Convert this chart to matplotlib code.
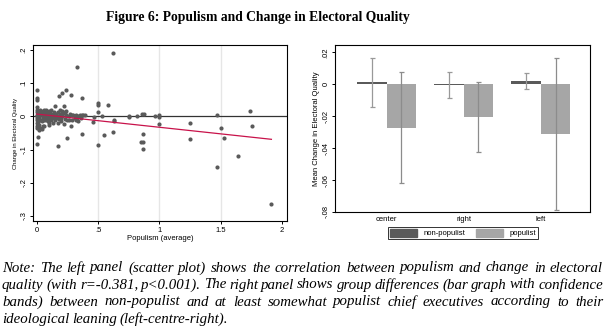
import numpy as np
import matplotlib
matplotlib.use("Agg")
import matplotlib.pyplot as plt
from matplotlib.patches import Patch

# ---- left panel: populism vs change in electoral quality ----
pop_x = [0.00, 0.00, 0.00, 0.00, 0.00, 0.00, 0.00, 0.00, 0.00, 0.00, 0.00, 0.00, 0.00, 0.00,
         0.01, 0.01, 0.01, 0.01, 0.02, 0.02, 0.02, 0.02, 0.02, 0.03, 0.03, 0.03, 0.03,
         0.04, 0.04, 0.04, 0.04, 0.05, 0.05, 0.05, 0.05, 0.06, 0.06, 0.06, 0.06,
         0.07, 0.07, 0.07, 0.08, 0.08, 0.08, 0.08, 0.09, 0.09, 0.09, 0.10, 0.10, 0.10, 0.10,
         0.11, 0.11, 0.12, 0.12, 0.12, 0.12, 0.13, 0.13, 0.14, 0.14, 0.15, 0.15, 0.15,
         0.16, 0.16, 0.17, 0.17, 0.17, 0.17, 0.18, 0.18, 0.19, 0.19, 0.20, 0.20, 0.20,
         0.21, 0.21, 0.21, 0.22, 0.22, 0.22, 0.23, 0.23, 0.24, 0.24, 0.24, 0.25, 0.25,
         0.26, 0.26, 0.27, 0.28, 0.28, 0.29, 0.29, 0.30, 0.31, 0.32, 0.32, 0.33, 0.33,
         0.34, 0.34, 0.35, 0.36, 0.37, 0.37, 0.37, 0.38, 0.39,
         0.46, 0.47, 0.50, 0.50, 0.50, 0.50, 0.53, 0.55, 0.58, 0.62, 0.62, 0.63, 0.63,
         0.75, 0.75, 0.82, 0.85, 0.855, 0.87, 0.87, 0.87, 0.877, 0.966, 1.00, 1.00, 1.00,
         1.25, 1.25, 1.467, 1.467, 1.505, 1.526, 1.64, 1.737, 1.754, 1.913]
change_y = [0.079, 0.054, 0.049, 0.027, 0.020, 0.012, 0.005, 0.000, -0.006, -0.012, -0.020, -0.028, -0.034, -0.084,
            -0.061, 0.015, -0.018, -0.030, 0.008, -0.004, -0.025, -0.042, 0.012, -0.035, 0.003, -0.010, 0.018,
            -0.038, 0.010, -0.015, 0.005, 0.015, -0.005, -0.028, 0.000, 0.007, -0.012, 0.020, -0.030,
            0.000, 0.015, -0.008, 0.020, -0.010, 0.008, 0.003, 0.012, -0.015, -0.004, 0.015, 0.005, -0.020, -0.025,
            0.010, -0.008, 0.018, -0.002, -0.012, 0.008, 0.005, -0.020, 0.012, -0.006, 0.030, 0.000, -0.012,
            0.008, -0.004, 0.012, -0.020, 0.002, -0.089, 0.062, -0.008, 0.018, 0.004, -0.006, 0.008, -0.015,
            0.069, 0.015, 0.000, 0.030, -0.024, 0.010, 0.012, -0.008, 0.079, 0.005, 0.015, -0.064, -0.010,
            0.002, -0.012, 0.008, 0.064, -0.028, 0.005, -0.010, 0.004, -0.006, -0.012, 0.004, 0.149, -0.004,
            -0.014, 0.002, 0.003, -0.006, 0.054, -0.053, 0.003, 0.004, 0.003,
            -0.016, -0.001, 0.039, 0.034, 0.012, -0.086, 0.000, -0.055, 0.033, 0.191, -0.047, -0.010, -0.014,
            0.002, -0.002, 0.000, -0.078, 0.006, -0.078, -0.054, -0.098, 0.007, 0.000, 0.004, -0.003, -0.023,
            -0.019, -0.067, 0.005, -0.151, -0.034, -0.064, -0.119, 0.016, -0.029, -0.265]
fit_x = [0.0, 1.913]
fit_y = [0.007, -0.069]

# ---- right panel: mean change by ideology ----
groups = ["center", "right", "left"]
nonpop_mean = [0.0012, -0.0005, 0.0022]
nonpop_lo = [-0.014, -0.0085, -0.0031]
nonpop_hi = [0.0163, 0.0075, 0.0069]
pop_mean = [-0.0273, -0.0208, -0.0313]
pop_lo = [-0.062, -0.0427, -0.0785]
pop_hi = [0.0075, 0.0013, 0.0163]

note_lines = [
    "Note: The left panel (scatter plot) shows the correlation between populism and change in electoral",
    "quality (with r=-0.381, p<0.001). The right panel shows group differences (bar graph with confidence",
    "bands) between non-populist and at least somewhat populist chief executives according to their",
    "ideological leaning (left-centre-right).",
]

W, H = 612, 332
fig = plt.figure(figsize=(W / 100, H / 100), dpi=100)
plt.rcParams["font.family"] = ["Liberation Sans", "DejaVu Sans"]

dark = "#5a5a5a"
light = "#a6a6a6"

# left scatter
ax1 = fig.add_axes([33 / W, 1 - 221 / H, (287 - 33) / W, (221 - 45) / H])
for gx in [0.5, 1.0, 1.5]:
    ax1.axvline(gx, color="#e6e6e6", lw=1, zorder=0)
ax1.axhline(0, color="#333333", lw=0.9, zorder=1)
ax1.scatter(pop_x, change_y, s=9, color=dark, linewidths=0, zorder=2)
ax1.plot(fit_x, fit_y, color="#c8124a", lw=0.9, zorder=3)
ax1.set_xlim(-0.03, 2.04)
ax1.set_ylim(-0.315, 0.215)
ax1.set_xticks([0, 0.5, 1, 1.5, 2])
ax1.set_xticklabels(["0", ".5", "1", "1.5", "2"])
ax1.set_yticks([-0.3, -0.2, -0.1, 0, 0.1, 0.2])
ax1.set_yticklabels(["-.3", "-.2", "-.1", "0", ".1", ".2"], rotation=90, va="center")
ax1.set_xlabel("Populism (average)", fontsize=5.5, labelpad=1)
ax1.set_ylabel("Change in Electoral Quality", fontsize=4.2, labelpad=2)
ax1.tick_params(labelsize=5.5, length=2.5, width=0.7, pad=1.5)

# right bar chart
ax2 = fig.add_axes([335 / W, 1 - 212 / H, (590 - 335) / W, (212 - 45) / H])
pos = np.arange(1, len(groups) + 1)
bw = 0.385
nm = np.array(nonpop_mean)
pm = np.array(pop_mean)
ax2.bar(pos - bw / 2, nm, bw, color=dark, label="non-populist", zorder=2)
ax2.bar(pos + bw / 2, pm, bw, color=light, label="populist", zorder=2)
ax2.errorbar(pos - bw / 2, nm, yerr=[nm - np.array(nonpop_lo), np.array(nonpop_hi) - nm],
             fmt="none", ecolor="#999999", elinewidth=0.9, capsize=1.8, capthick=0.9, zorder=3)
ax2.errorbar(pos + bw / 2, pm, yerr=[pm - np.array(pop_lo), np.array(pop_hi) - pm],
             fmt="none", ecolor="#8c8c8c", elinewidth=0.9, capsize=1.8, capthick=0.9, zorder=3)
ax2.set_xlim(0.33, 3.64)
ax2.set_ylim(-0.08, 0.0246)
ax2.set_xticks(pos)
ax2.set_xticklabels(groups)
ax2.set_yticks([-0.08, -0.06, -0.04, -0.02, 0, 0.02])
ax2.set_yticklabels(["-.08", "-.06", "-.04", "-.02", "0", ".02"], rotation=90, va="center")
ax2.set_ylabel("Mean Change in Electoral Quality", fontsize=5.5, labelpad=2)
ax2.tick_params(labelsize=5.5, length=2.5, width=0.7, pad=1.5)
ax2.tick_params(axis="x", length=0, pad=3)
handles = [Patch(color=dark), Patch(color=light)]
leg = fig.legend(handles, ["non-populist", "populist"], loc="center",
                 bbox_to_anchor=(463 / W, 1 - 233 / H), ncol=2, fontsize=5.5,
                 frameon=True, fancybox=False, edgecolor="black", handlelength=3.6,
                 handleheight=1.2, columnspacing=1.4, borderpad=0.25, handletextpad=0.8)
leg.get_frame().set_linewidth(0.7)

for ax in (ax1, ax2):
    for sp in ax.spines.values():
        sp.set_linewidth(0.8)

# title
fig.text(258 / W, 1 - 18 / H, "Figure 6: Populism and Change in Electoral Quality",
         ha="center", va="center", fontsize=9.8, fontweight="bold", family="Liberation Serif")

# justified note text
fs = 10.7
fig.canvas.draw()
r = fig.canvas.get_renderer()
x0, x1 = 2.0, 603.0
line_y = [268, 285, 302, 319]
space_w = 2.8
for i, line in enumerate(note_lines):
    words = line.split()
    ts = [fig.text(0, 1 - line_y[i] / H, w, fontsize=fs, style="italic",
                   family="Liberation Serif", va="center", ha="left") for w in words]
    widths = [t.get_window_extent(r).width for t in ts]
    if i < len(note_lines) - 1:
        gap = max((x1 - x0 - sum(widths)) / (len(words) - 1), 1.5)
    else:
        gap = space_w
    x = x0
    for t, w in zip(ts, widths):
        t.set_x(x / W)
        x += w + gap

fig.savefig("out.png", dpi=100)
